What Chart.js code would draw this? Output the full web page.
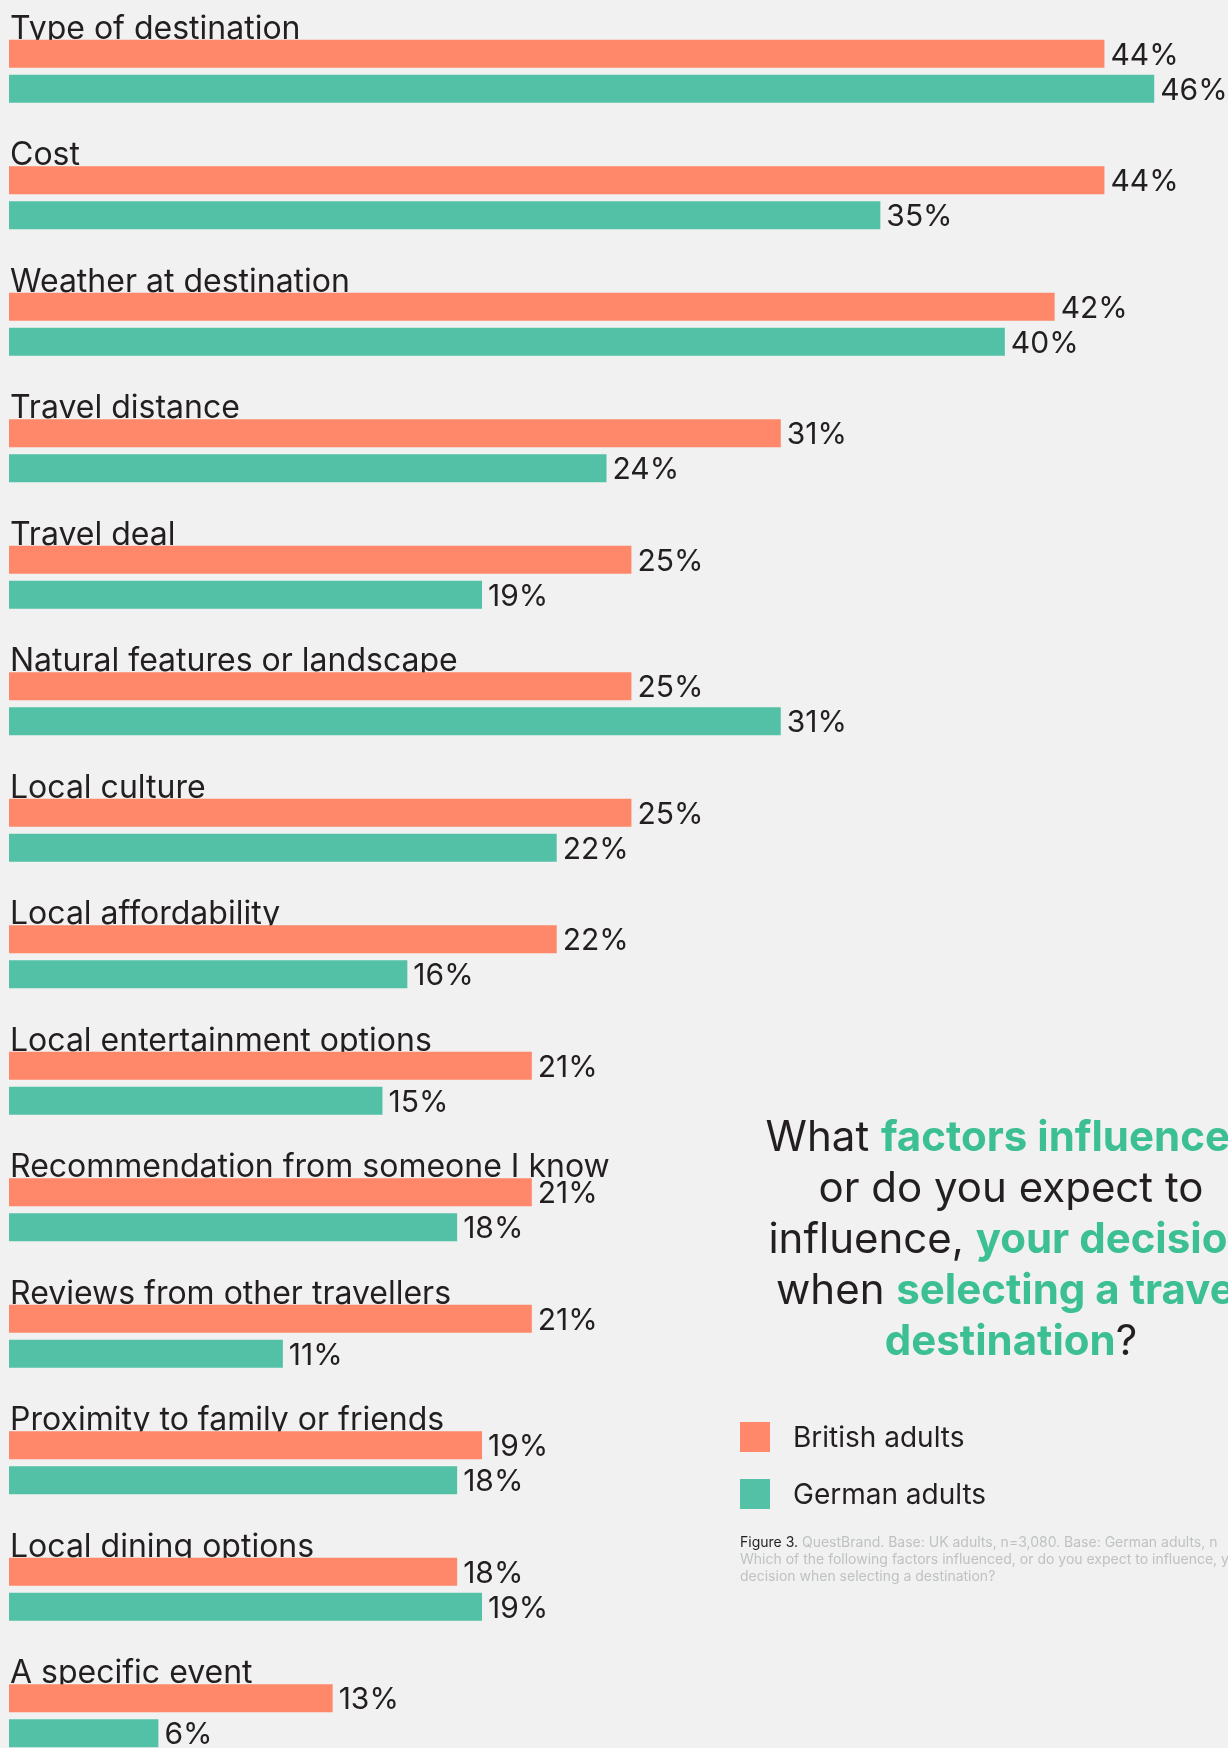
<!DOCTYPE html>
<html>
<head>
<meta charset="utf-8">
<script src="https://cdn.jsdelivr.net/npm/chart.js@4.4.1/dist/chart.umd.min.js"></script>
<style>
    html, body { margin: 0; padding: 0; }
    body {
        width: 1228px;
        height: 1748px;
        overflow: hidden;
        background: #f0f1f0;
        position: relative;
        font-family: Inter, Roboto, sans-serif;
        color: #231f20;
    }
    #chart-wrap {
        position: absolute;
        left: 0; top: 0;
        width: 1228px;
        height: 1800px;
    }
    #title {
        position: absolute;
        left: 661px;
        top: 1110px;
        width: 700px;
        text-align: center;
        white-space: nowrap;
        font-size: 42px;
        line-height: 51px;
    }
    #title b { color: #3bbf93; font-weight: 700; }
    .legend-item {
        position: absolute;
        left: 740px;
        font-size: 28px;
        line-height: 30px;
        white-space: nowrap;
    }
    .legend-item span {
        display: inline-block;
        width: 30px; height: 30px;
        vertical-align: top;
        margin-right: 23px;
    }
    #note {
        position: absolute;
        left: 740px;
        top: 1533px;
        font-size: 14px;
        line-height: 17px;
        white-space: nowrap;
        color: #bfc2c2;
    }
    #note em { font-style: normal; color: #231f20; }
</style>
</head>
<body>
<div id="chart-wrap"><canvas id="factorsChart"></canvas></div>

<div id="title">What <b>factors influenced</b><br>or do you expect to<br>influence, <b>your decision</b><br>when <b>selecting a travel</b><br><b>destination</b>?</div>

<div class="legend-item" style="top:1422px"><span style="background:#ff876a"></span>British adults</div>
<div class="legend-item" style="top:1479px"><span style="background:#53c1a6"></span>German adults</div>

<div id="note"><em>Figure 3.</em> QuestBrand. Base: UK adults, n=3,080. Base: German adults, n<br>Which of the following factors influenced, or do you expect to influence, your<br>decision when selecting a destination?</div>

<script>
// Factors and survey shares (%)
const factors = [
    'Type of destination',
    'Cost',
    'Weather at destination',
    'Travel distance',
    'Travel deal',
    'Natural features or landscape',
    'Local culture',
    'Local affordability',
    'Local entertainment options',
    'Recommendation from someone I know',
    'Reviews from other travellers',
    'Proximity to family or friends',
    'Local dining options',
    'A specific event'
];
const britishAdults = [44, 44, 42, 31, 25, 25, 25, 22, 21, 21, 21, 19, 18, 13];
const germanAdults = [46, 35, 40, 24, 19, 31, 22, 16, 15, 18, 11, 18, 19, 6];

const ORANGE = '#ff876a';
const GREEN = '#53c1a6';
const TEXT = '#231f20';
const FONT = 'Inter, Roboto, sans-serif';

// Category names sit on top of the orange bar, partly covered by it
const categoryLabels = {
    id: 'categoryLabels',
    beforeDatasetsDraw(chart) {
        const ctx = chart.ctx;
        const meta = chart.getDatasetMeta(0);
        ctx.save();
        ctx.fillStyle = TEXT;
        ctx.font = '32px ' + FONT;
        ctx.textAlign = 'left';
        ctx.textBaseline = 'alphabetic';
        meta.data.forEach((bar, i) => {
            const top = bar.y - bar.height / 2;
            ctx.fillText(chart.data.labels[i], 10, top - 1);
        });
        ctx.restore();
    }
};

// Percent values at the end of each bar
const valueLabels = {
    id: 'valueLabels',
    afterDatasetsDraw(chart) {
        const ctx = chart.ctx;
        ctx.save();
        ctx.fillStyle = TEXT;
        ctx.font = '30px ' + FONT;
        ctx.textAlign = 'left';
        ctx.textBaseline = 'middle';
        chart.data.datasets.forEach((ds, d) => {
            chart.getDatasetMeta(d).data.forEach((bar, i) => {
                ctx.fillText(ds.data[i] + '%', bar.x + 6, bar.y + 2);
            });
        });
        ctx.restore();
    }
};

const ctx = document.getElementById('factorsChart').getContext('2d');
new Chart(ctx, {
    type: 'bar',
    data: {
        labels: factors,
        datasets: [
            {
                label: 'British adults',
                data: britishAdults,
                backgroundColor: ORANGE,
                borderWidth: 0,
                categoryPercentage: 0.5534,
                barPercentage: 0.8
            },
            {
                label: 'German adults',
                data: germanAdults,
                backgroundColor: GREEN,
                borderWidth: 0,
                categoryPercentage: 0.5534,
                barPercentage: 0.8
            }
        ]
    },
    options: {
        indexAxis: 'y',
        responsive: true,
        maintainAspectRatio: false,
        animation: false,
        layout: { padding: { left: 9, right: 24, top: 8, bottom: 21 } },
        scales: {
            x: { display: false, min: 0, max: 48 },
            y: { display: false }
        },
        plugins: {
            legend: { display: false },
            tooltip: { enabled: false }
        }
    },
    plugins: [categoryLabels, valueLabels]
});
</script>
</body>
</html>
